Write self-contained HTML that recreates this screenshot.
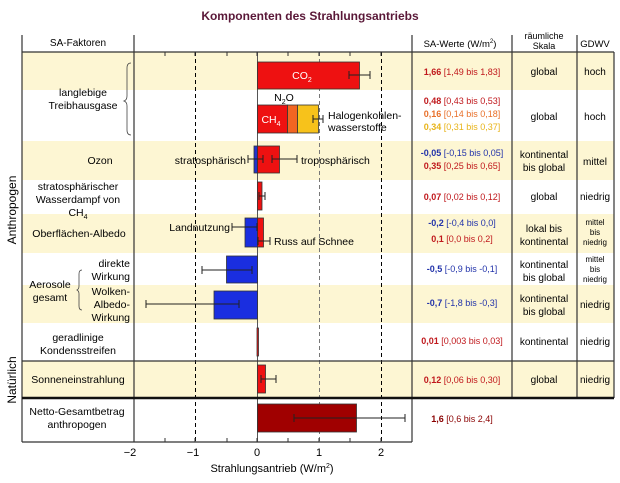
<!DOCTYPE html>
<html><head><meta charset="utf-8"><style>body{margin:0;background:#fff}svg{display:block}text{font-family:"Liberation Sans",sans-serif}</style></head><body>
<svg width="620" height="483" viewBox="0 0 620 483" xmlns="http://www.w3.org/2000/svg">
<text x="310" y="20" text-anchor="middle" font-size="12" font-weight="bold" fill="#5a1838">Komponenten des Strahlungsantriebs</text>
<g fill="#fdf6d3">
<rect x="22" y="52" width="592" height="38"/>
<rect x="22" y="141" width="592" height="39"/>
<rect x="22" y="214" width="592" height="39"/>
<rect x="22" y="285" width="592" height="38"/>
<rect x="22" y="361" width="592" height="37"/>
</g>
<g stroke="#000" stroke-width="1" stroke-dasharray="4,3">
<line x1="195.5" y1="52" x2="195.5" y2="442"/>
<line x1="381.5" y1="52" x2="381.5" y2="442"/>
</g>
<line x1="319.5" y1="52" x2="319.5" y2="442" stroke="#777" stroke-dasharray="4,3"/>
<line x1="257.5" y1="52" x2="257.5" y2="442" stroke="#555"/>
<g stroke="#333" stroke-width="0.8">
<rect x="257.5" y="62" width="102" height="27" fill="#ee1111"/>
<rect x="257.5" y="105" width="30" height="28" fill="#ee1111"/>
<rect x="287.5" y="105" width="10" height="28" fill="#f26522"/>
<rect x="297.5" y="105" width="21" height="28" fill="#f7c21b"/>
<rect x="254" y="146" width="3.5" height="27" fill="#2233cc"/>
<rect x="257.5" y="146" width="22" height="27" fill="#ee1111"/>
<rect x="257.5" y="182" width="4.5" height="28" fill="#ee1111"/>
<rect x="245" y="218" width="12.5" height="29" fill="#1a2ee0"/>
<rect x="257.5" y="218" width="6" height="29" fill="#ee1111"/>
<rect x="226.5" y="256" width="31" height="27" fill="#1a2ee0"/>
<rect x="214" y="291" width="43.5" height="28" fill="#1a2ee0"/>
<rect x="257" y="328" width="1.5" height="28" fill="#ee1111"/>
<rect x="257.5" y="365" width="8" height="28" fill="#ee1111"/>
<rect x="257.5" y="404" width="99" height="28" fill="#a00000"/>
</g>
<g stroke="#222" stroke-width="1" fill="none">
<path d="M349 75H370M349 71V79M370 71V79"/>
<path d="M313 119H323M313 115V123M323 115V123"/>
<path d="M248 159H263M248 155V163M263 155V163"/>
<path d="M272 159H297M272 155V163M297 155V163"/>
<path d="M259 196H265M259 192V200M265 192V200"/>
<path d="M232 227H257M232 223V231M257 223V231"/>
<path d="M258 241H270M258 237V245M270 237V245"/>
<path d="M202 270H252M202 266V274M252 266V274"/>
<path d="M146 304H239M146 300V308M239 300V308"/>
<path d="M261 379H276M261 375V383M276 375V383"/>
<path d="M294 418H405M294 414V422M405 414V422"/>
</g>
<g font-size="10.5" fill="#000">
<text x="302" y="79" text-anchor="middle" fill="#fff">CO<tspan font-size="7" dy="3">2</tspan></text>
<text x="271" y="123" text-anchor="middle" fill="#fff">CH<tspan font-size="7" dy="3">4</tspan></text>
<text x="284" y="101" text-anchor="middle">N<tspan font-size="7" dy="3">2</tspan><tspan dy="-3">O</tspan></text>
<text x="328" y="119">Halogenkohlen-</text>
<text x="328" y="131">wasserstoffe</text>
<text x="246" y="164" text-anchor="end">stratosphärisch</text>
<text x="301" y="164">troposphärisch</text>
<text x="230" y="231" text-anchor="end">Landnutzung</text>
<text x="274" y="245">Russ auf Schnee</text>
</g>
<g stroke="#333" stroke-width="1.2" fill="none">
<line x1="22" y1="35" x2="22" y2="442"/>
<line x1="134" y1="35" x2="134" y2="442"/>
<line x1="412" y1="35" x2="412" y2="442"/>
<line x1="512" y1="35" x2="512" y2="398"/>
<line x1="577" y1="35" x2="577" y2="398"/>
<line x1="614" y1="52" x2="614" y2="398"/>
<line x1="22" y1="52" x2="614" y2="52"/>
<line x1="22" y1="361" x2="614" y2="361"/>
<line x1="22" y1="442" x2="412" y2="442"/>
</g>
<line x1="22" y1="398" x2="614" y2="398" stroke="#111" stroke-width="2.5"/>
<g stroke="#333">
<path d="M165 52v4M195 52v4M227 52v4M257 52v4M288 52v4M319 52v4M350 52v4M381 52v4"/>
<path d="M134 442v-4M165 442v-4M195 442v-4M227 442v-4M257 442v-4M288 442v-4M319 442v-4M350 442v-4M381 442v-4"/>
</g>
<g font-size="11" text-anchor="middle">
<text x="130" y="456">−2</text><text x="193" y="456">−1</text><text x="257" y="456">0</text><text x="319" y="456">1</text><text x="381" y="456">2</text>
<text x="272" y="472">Strahlungsantrieb (W/m<tspan font-size="7" dy="-4">2</tspan><tspan dy="4">)</tspan></text>
</g>
<g font-size="10" text-anchor="middle">
<text x="78" y="46">SA-Faktoren</text>
<text x="460" y="47" font-size="9.5">SA-Werte (W/m<tspan font-size="6" dy="-4">2</tspan><tspan dy="4">)</tspan></text>
<text x="544" y="39" font-size="9">räumliche</text>
<text x="544" y="49" font-size="9">Skala</text>
<text x="595" y="47" font-size="9.5">GDWV</text>
</g>
<g font-size="10.5" text-anchor="middle">
<text x="83" y="96">langlebige</text><text x="83" y="109">Treibhausgase</text>
<text x="100" y="164">Ozon</text>
<text x="78" y="190">stratosphärischer</text><text x="78" y="203">Wasserdampf von</text><text x="78" y="216">CH<tspan font-size="7" dy="3">4</tspan></text>
<text x="79" y="237">Oberflächen-Albedo</text>
<text x="130" y="267" text-anchor="end">direkte</text><text x="130" y="280" text-anchor="end">Wirkung</text>
<text x="130" y="295" text-anchor="end">Wolken-</text><text x="130" y="308" text-anchor="end">Albedo-</text><text x="130" y="321" text-anchor="end">Wirkung</text>
<text x="50" y="288">Aerosole</text><text x="50" y="301">gesamt</text>
<text x="78" y="341">geradlinige</text><text x="78" y="354">Kondensstreifen</text>
<text x="78" y="383">Sonneneinstrahlung</text>
<text x="77" y="415">Netto-Gesamtbetrag</text><text x="77" y="428">anthropogen</text>
</g>
<g fill="none" stroke="#444" stroke-width="0.8">
<path d="M131 63q-4 0-4 5v28q0 4-3 5q3 1 3 5v24q0 5 4 5"/>
<path d="M82 270q-3 0-3 4v12q0 3-2 4q2 1 2 4v12q0 4 3 4"/>
</g>
<g font-size="12" text-anchor="middle">
<text transform="translate(16,210) rotate(-90)">Anthropogen</text>
<text transform="translate(16,380) rotate(-90)">Natürlich</text>
</g>
<g font-size="9" text-anchor="middle">
<text x="462" y="75" fill="#c0181c"><tspan font-weight="bold">1,66</tspan> [1,49 bis 1,83]</text>
<text x="462" y="104" fill="#c0181c"><tspan font-weight="bold">0,48</tspan> [0,43 bis 0,53]</text>
<text x="462" y="117" fill="#e8702a"><tspan font-weight="bold">0,16</tspan> [0,14 bis 0,18]</text>
<text x="462" y="130" fill="#e8b41a"><tspan font-weight="bold">0,34</tspan> [0,31 bis 0,37]</text>
<text x="462" y="156" fill="#2233aa"><tspan font-weight="bold">-0,05</tspan> [-0,15 bis 0,05]</text>
<text x="462" y="169" fill="#c0181c"><tspan font-weight="bold">0,35</tspan> [0,25 bis 0,65]</text>
<text x="462" y="200" fill="#c0181c"><tspan font-weight="bold">0,07</tspan> [0,02 bis 0,12]</text>
<text x="462" y="226" fill="#2233aa"><tspan font-weight="bold">-0,2</tspan> [-0,4 bis 0,0]</text>
<text x="462" y="242" fill="#c0181c"><tspan font-weight="bold">0,1</tspan> [0,0 bis 0,2]</text>
<text x="462" y="272" fill="#2233aa"><tspan font-weight="bold">-0,5</tspan> [-0,9 bis -0,1]</text>
<text x="462" y="306" fill="#2233aa"><tspan font-weight="bold">-0,7</tspan> [-1,8 bis -0,3]</text>
<text x="462" y="344" fill="#c0181c"><tspan font-weight="bold">0,01</tspan> [0,003 bis 0,03]</text>
<text x="462" y="383" fill="#c0181c"><tspan font-weight="bold">0,12</tspan> [0,06 bis 0,30]</text>
<text x="462" y="422" fill="#8a0000"><tspan font-weight="bold">1,6</tspan> [0,6 bis 2,4]</text>
</g>
<g font-size="10" text-anchor="middle">
<text x="544" y="75">global</text><text x="595" y="75">hoch</text>
<text x="544" y="120">global</text><text x="595" y="120">hoch</text>
<text x="544" y="158">kontinental</text><text x="544" y="171">bis global</text><text x="595" y="165">mittel</text>
<text x="544" y="200">global</text><text x="595" y="200">niedrig</text>
<text x="544" y="232">lokal bis</text><text x="544" y="245">kontinental</text>
<text x="544" y="268">kontinental</text><text x="544" y="281">bis global</text>
<text x="544" y="302">kontinental</text><text x="544" y="315">bis global</text><text x="595" y="308">niedrig</text>
<text x="544" y="345">kontinental</text><text x="595" y="345">niedrig</text>
<text x="544" y="383">global</text><text x="595" y="383">niedrig</text>
</g>
<g font-size="8" text-anchor="middle">
<text x="595" y="225">mittel</text><text x="595" y="235">bis</text><text x="595" y="245">niedrig</text>
<text x="595" y="262">mittel</text><text x="595" y="272">bis</text><text x="595" y="282">niedrig</text>
</g>
</svg>
</body></html>
